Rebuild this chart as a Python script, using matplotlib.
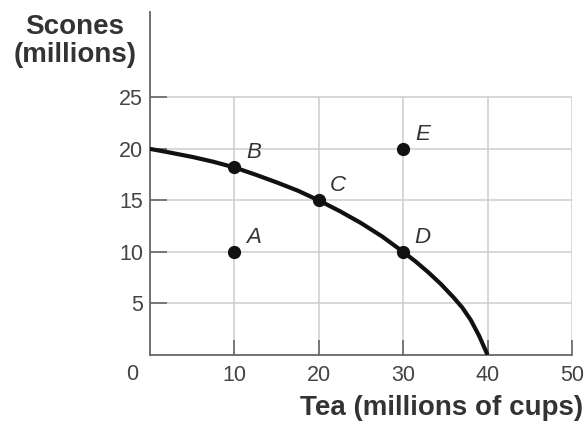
import matplotlib
matplotlib.use("Agg")
import matplotlib.pyplot as plt

plt.rcParams['font.family'] = ['Liberation Sans', 'DejaVu Sans']

# frontiera delle possibilita' produttive
curva_x = [0, 2.5, 5, 7.5, 10, 12.5, 15, 17.5, 20, 22.5, 25, 27.5, 30,
           31.5, 33, 34.5, 36, 37, 38, 39, 40]
curva_y = [20, 19.62, 19.22, 18.75, 18.2, 17.5, 16.75, 15.95, 15, 13.95, 12.8, 11.5, 10,
           9.05, 8.0, 6.85, 5.55, 4.6, 3.4, 1.85, 0]

# punti etichettati
nomi = ["A", "B", "C", "D", "E"]
punti_x = [10, 10, 20, 30, 30]
punti_y = [10, 18.2, 15, 10, 20]

tick_x = [10, 20, 30, 40, 50]
tick_y = [5, 10, 15, 20, 25]

fig = plt.figure(figsize=(5.86, 4.25), dpi=100)
ax = fig.add_axes([0.256, 0.165, 0.72, 0.807])
ax.set_xlim(0, 50)
ax.set_ylim(0, 33.3)

# griglia solo dentro il riquadro 0-50 x 0-25
ax.hlines(tick_y, 0, 50, color="#cdcdcd", lw=1.1, zorder=1)
ax.vlines(tick_x, 0, 25, color="#cdcdcd", lw=1.1, zorder=1)

ax.plot(curva_x, curva_y, color="#111111", lw=3, solid_capstyle="butt",
        solid_joinstyle="round", zorder=3)
ax.plot(punti_x, punti_y, "o", color="#111111", ms=8.5, zorder=4)
for n, x, y in zip(nomi, punti_x, punti_y):
    ax.annotate(n, (x, y), xytext=(14, 10.5), textcoords="offset points",
                ha="center", va="center", fontsize=16, style="italic", color="#333333")

for s in ["top", "right"]:
    ax.spines[s].set_visible(False)
for s in ["left", "bottom"]:
    ax.spines[s].set_color("#666666")
    ax.spines[s].set_linewidth(1.3)

ax.set_xticks(tick_x)
ax.set_yticks(tick_y)
ax.tick_params(axis="x", direction="in", length=11, width=1.2, color="#666666",
               labelsize=15.5, labelcolor="#444444", pad=7)
ax.tick_params(axis="y", direction="in", length=12, width=1.2, color="#666666",
               labelsize=15.5, labelcolor="#444444", pad=5)
ax.annotate("0", (0, 0), xytext=(-12.5, -14), textcoords="offset points",
            ha="center", va="center", fontsize=15.5, color="#444444")

fig.text(75 / 586, 1 - 41 / 425, "Scones\n(millions)", ha="center", va="center",
         fontsize=20, fontweight="bold", color="#333333", linespacing=1.05)
fig.text(583 / 586, 1 - 408 / 425, "Tea (millions of cups)", ha="right", va="center",
         fontsize=20, fontweight="bold", color="#333333")

fig.savefig("out.png", dpi=100)
